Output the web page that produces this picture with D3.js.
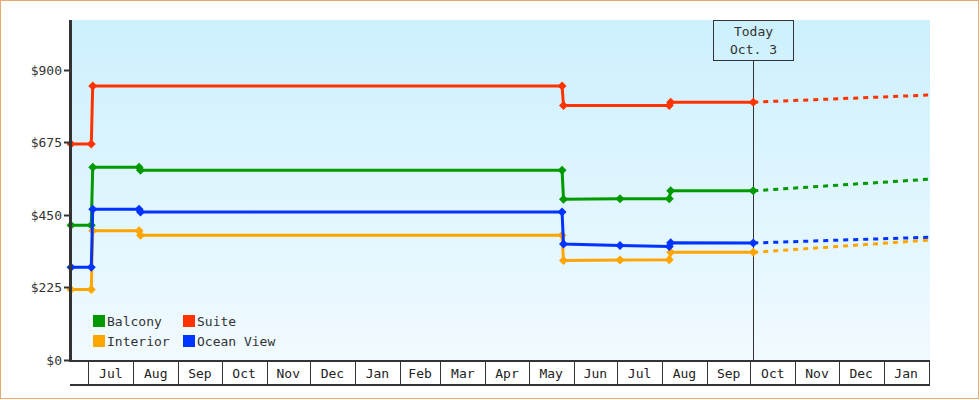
<!DOCTYPE html>
<html><head><meta charset="utf-8">
<script src="https://cdn.jsdelivr.net/npm/d3@7"></script>
<style>body{margin:0;background:#fff} svg{display:block}</style>
</head><body><svg id="c" width="980" height="400"></svg>
<script>
// ---- data ----
const seriesNames = ["Balcony", "Suite", "Interior", "Ocean View"];
const seriesColors = ["#009900", "#ff3300", "#ffa500", "#0033ff"];
const suiteDates = ["2013-06-19","2013-07-03","2013-07-04","2014-05-24","2014-05-25","2014-08-06","2014-08-07","2014-10-03"];
const otherDates = ["2013-06-19","2013-07-03","2013-07-04","2013-08-05","2013-08-06","2014-05-24","2014-05-25","2014-07-03","2014-08-06","2014-08-07","2014-10-03"];
const suiteValues    = [670, 670, 850, 850, 790, 790, 800, 800];
const balconyValues  = [418, 418, 598, 598, 589, 589, 499, 500, 500, 525, 525];
const interiorValues = [219, 219, 401, 401, 387, 387, 309, 310, 311, 334, 334];
const oceanValues    = [288, 288, 468, 468, 459, 459, 360, 355, 352, 364, 363];
const forecastDates = ["2014-10-03", "2015-02-01"];
const forecastSuite    = [800, 822];
const forecastBalcony  = [525, 561];
const forecastInterior = [334, 372];
const forecastOcean    = [363, 381];
const yTicks = [0, 225, 450, 675, 900];
const todayDate = "2014-10-03";
const todayLabel = ["Today", "Oct. 3"];
const domainStart = "2013-06-19", domainEnd = "2015-02-02";

const parse = d3.utcParse("%Y-%m-%d");
const history = [
  {dates: otherDates, values: balconyValues, fc: forecastBalcony},
  {dates: suiteDates, values: suiteValues, fc: forecastSuite},
  {dates: otherDates, values: interiorValues, fc: forecastInterior},
  {dates: otherDates, values: oceanValues, fc: forecastOcean}
];

const svg = d3.select("#c");
const L = 71, R = 930, T = 20, B = 360;
const x = d3.scaleUtc().domain([parse(domainStart), parse(domainEnd)]).range([L, R]);
const y = d3.scaleLinear().domain([0, 1055]).range([B, T]);
const font = "'DejaVu Sans Mono', monospace";

// outer border
svg.append("rect").attr("x", 0.5).attr("y", 0.5).attr("width", 978).attr("height", 398)
  .attr("fill", "#fff").attr("stroke", "#e6aa6e");

// gradient background
const defs = svg.append("defs");
const g = defs.append("linearGradient").attr("id", "bg").attr("x1", 0).attr("y1", 0).attr("x2", 0).attr("y2", 1);
g.append("stop").attr("offset", 0).attr("stop-color", "#ccf0fd");
g.append("stop").attr("offset", 1).attr("stop-color", "#f1faff");
svg.append("rect").attr("x", L).attr("y", T).attr("width", R - L).attr("height", B - T).attr("fill", "url(#bg)");

// today line + box
const tx = Math.round(x(parse(todayDate))) + 0.5;
svg.append("line").attr("x1", tx).attr("x2", tx).attr("y1", 60).attr("y2", B).attr("stroke", "#333").attr("stroke-width", 1);
svg.append("rect").attr("x", tx - 40).attr("y", T + 0.5).attr("width", 80).attr("height", 40)
  .attr("fill", "none").attr("stroke", "#333").attr("stroke-width", 1);
todayLabel.forEach((t, i) => {
  svg.append("text").attr("x", tx).attr("y", T + 16 + i * 18).attr("text-anchor", "middle")
    .attr("font-family", font).attr("font-size", 13).attr("fill", "#333").text(t);
});

// series
const line = d3.line().x(d => x(d[0])).y(d => y(d[1]));
const diamond = "M0,-4.5L4.5,0L0,4.5L-4.5,0Z";
history.forEach((s, i) => {
  const pts = s.dates.map((d, j) => [parse(d), s.values[j]]);
  const fpts = forecastDates.map((d, j) => [parse(d), s.fc[j]]);
  const c = seriesColors[i];
  svg.append("path").attr("d", line(fpts)).attr("fill", "none").attr("stroke", c)
    .attr("stroke-width", 3).attr("stroke-dasharray", "5,5");
  svg.append("path").attr("d", line(pts)).attr("fill", "none").attr("stroke", c)
    .attr("stroke-width", 3).attr("stroke-linejoin", "miter");
  svg.selectAll(null).data(pts).enter().append("path")
    .attr("transform", d => `translate(${x(d[0])},${y(d[1])})`)
    .attr("d", diamond).attr("fill", c);
});

// legend
const legPos = [[93, 315], [183, 315], [93, 335], [183, 335]];
seriesNames.forEach((n, i) => {
  const [lx, ly] = legPos[i];
  svg.append("rect").attr("x", lx).attr("y", ly).attr("width", 12).attr("height", 12).attr("fill", seriesColors[i]);
  svg.append("text").attr("x", lx + 14).attr("y", ly + 10.5).attr("font-family", font).attr("font-size", 13)
    .attr("fill", "#333").text(n);
});

// y axis
svg.append("line").attr("x1", L - 0.5).attr("x2", L - 0.5).attr("y1", T).attr("y2", B + 2)
  .attr("stroke", "#333").attr("stroke-width", 3);
yTicks.forEach(v => {
  const yy = Math.round(y(v));
  svg.append("line").attr("x1", 64).attr("x2", L).attr("y1", yy + 0.5).attr("y2", yy + 0.5)
    .attr("stroke", "#333").attr("stroke-width", 2);
  svg.append("text").attr("x", 62).attr("y", yy + 5).attr("text-anchor", "end")
    .attr("font-family", font).attr("font-size", 13).attr("fill", "#333").text("$" + v);
});

// x axis month band
svg.append("line").attr("x1", 70).attr("x2", R).attr("y1", B + 1).attr("y2", B + 1).attr("stroke", "#333").attr("stroke-width", 2);
svg.append("line").attr("x1", 70).attr("x2", R).attr("y1", 385).attr("y2", 385).attr("stroke", "#333").attr("stroke-width", 2);
const months = x.ticks(d3.utcMonth.every(1));
months.forEach(m => {
  const mx = Math.round(x(m)) + 0.5;
  svg.append("line").attr("x1", mx).attr("x2", mx).attr("y1", B).attr("y2", 385).attr("stroke", "#333").attr("stroke-width", 1);
  const end = Math.min(R, x(d3.utcMonth.offset(m, 1)));
  if (end - x(m) > 30) {
    svg.append("text").attr("x", (x(m) + end) / 2).attr("y", 378).attr("text-anchor", "middle")
      .attr("font-family", font).attr("font-size", 13).attr("fill", "#222").text(d3.utcFormat("%b")(m));
  }
});
svg.append("line").attr("x1", R - 0.5).attr("x2", R - 0.5).attr("y1", B).attr("y2", 385).attr("stroke", "#333").attr("stroke-width", 1);
</script>
</body></html>
